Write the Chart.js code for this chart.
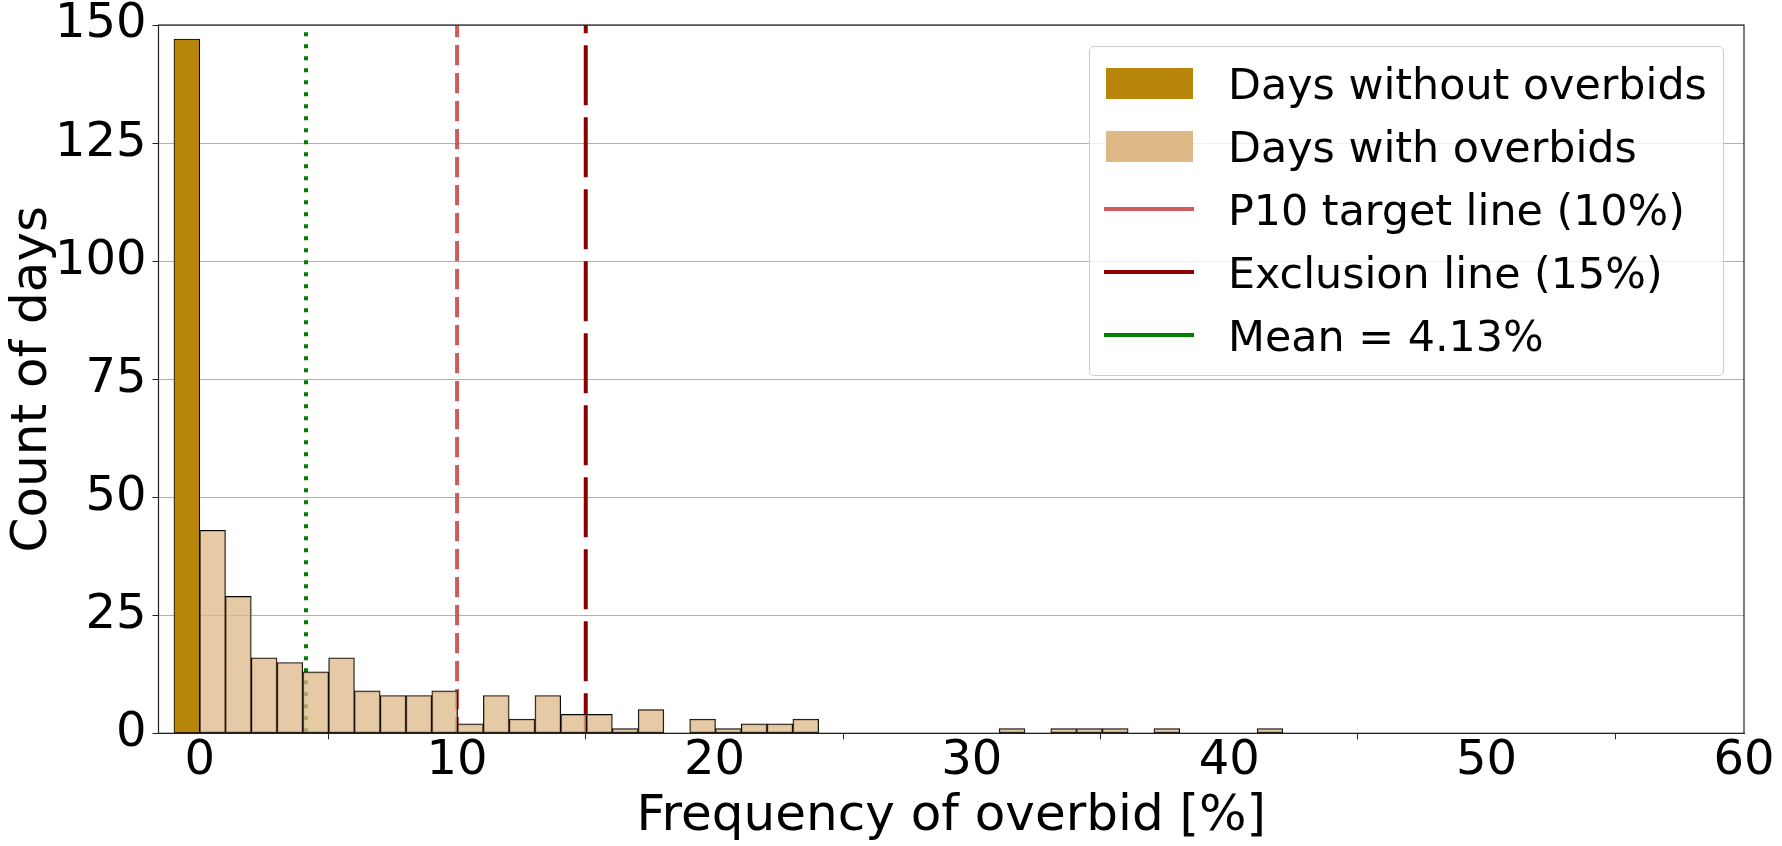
<!DOCTYPE html>
<html>
<head>
<meta charset="utf-8">
<script src="https://cdn.jsdelivr.net/npm/chart.js@4"></script>
<style>
  html, body { margin: 0; padding: 0; background: #fff; }
  #wrap { position: relative; width: 1782px; height: 846px; overflow: hidden; font-family: "DejaVu Sans", sans-serif; }
  #c { position: absolute; left: 0; top: 0; }
  #legend { position: absolute; left: 1089px; top: 46px; width: 635px; height: 330px; box-sizing: border-box;
            background: rgba(255,255,255,0.8); border: 1px solid #cccccc; border-radius: 5px; }
  .row { position: absolute; left: 0; width: 100%; height: 0; }
  .patch { position: absolute; left: 16px; width: 87px; height: 31px; top: -15.5px; }
  .line { position: absolute; left: 14px; width: 90px; height: 4px; top: -2px; }
  .txt { position: absolute; left: 138px; top: -20.75px; font-size: 42.8px; line-height: 43px; white-space: nowrap; color: #000; }
</style>
</head>
<body>
<div id="wrap">
  <canvas id="c" width="1782" height="846"></canvas>
  <div id="legend"></div>
</div>
<script>
// ---- data ----
const binWidth = 1.002;              // width of each overbid-frequency bin [%]
const withOverbidCounts = [43, 29, 16, 15, 13, 16, 9, 8, 8, 9,
                           2, 8, 3, 8, 4, 4, 1, 5, 0, 3,
                           1, 2, 2, 3, 0, 0, 0, 0, 0, 0,
                           0, 1, 0, 1, 1, 1, 0, 1, 0, 0,
                           0, 1];
const noOverbidBin = [-1, 0];        // bin edges for days without overbids
const noOverbidCount = 147;
const p10Target = 10;
const exclusionValue = 15;
const meanValue = 4.13;
const xTickValues = [0, 10, 20, 30, 40, 50, 60];
const yTickValues = [0, 25, 50, 75, 100, 125, 150];
const legendLabels = ["Days without overbids", "Days with overbids", "P10 target line (10%)", "Exclusion line (15%)", "Mean = 4.13%"];
const xTitle = "Frequency of overbid [%]";
const yTitle = "Count of days";

// ---- styles ----
const darkGold = '#b8860b';
const burly = '#deb887';
const burlyAlpha = 'rgba(222,184,135,0.75)';
const p10Color = '#cd5c5c';
const exclColor = '#8b0000';
const meanColor = '#008000';

const withPoints = [];
withOverbidCounts.forEach((c, i) => {
  if (c > 0) withPoints.push({ x: (i + 0.5) * binWidth, y: c });
});
const noPoints = [{ x: (noOverbidBin[0] + noOverbidBin[1]) / 2, y: noOverbidCount }];

const yMax = yTickValues[yTickValues.length - 1];
function vline(x) { return [{ x: x, y: 0 }, { x: x, y: yMax }]; }

const framePlugin = {
  id: 'frame',
  afterDatasetsDraw(chart) {
    const a = chart.chartArea, ctx = chart.ctx;
    ctx.save();
    ctx.strokeStyle = '#222';
    ctx.lineWidth = 1.2;
    ctx.strokeRect(a.left, a.top, a.right - a.left, a.bottom - a.top);
    ctx.restore();
  }
};

const font = "'DejaVu Sans', sans-serif";

new Chart(document.getElementById('c'), {
  type: 'bar',
  data: {
    datasets: [
      { type: 'bar', label: legendLabels[0], data: noPoints, backgroundColor: darkGold,
        borderColor: '#000', borderWidth: 1, borderSkipped: false, order: 0 },
      { type: 'bar', label: legendLabels[1], data: withPoints, backgroundColor: burlyAlpha,
        borderColor: '#000', borderWidth: 1, borderSkipped: false, order: 0 },
      { type: 'line', label: legendLabels[2], data: vline(p10Target), borderColor: p10Color,
        borderWidth: 4, borderDash: [20.3, 7.7], borderDashOffset: 4, pointRadius: 0, borderCapStyle: 'butt', order: 1 },
      { type: 'line', label: legendLabels[3], data: vline(exclusionValue), borderColor: exclColor,
        borderWidth: 4, borderDash: [60, 12], borderDashOffset: 20, pointRadius: 0, borderCapStyle: 'butt', order: 1 },
      { type: 'line', label: legendLabels[4], data: vline(meanValue), borderColor: meanColor,
        borderWidth: 4, borderDash: [4, 8], borderDashOffset: 11, pointRadius: 0, borderCapStyle: 'butt', order: 1 }
    ]
  },
  options: {
    responsive: false,
    devicePixelRatio: 1,
    animation: false,
    grouped: false,
    barPercentage: 1,
    categoryPercentage: 1,
    layout: { padding: { left: 0, right: 38, top: 25, bottom: 0 } },
    plugins: { legend: { display: false }, tooltip: { enabled: false } },
    scales: {
      x: {
        type: 'linear', min: -1.6, max: 60, offset: false,
        afterBuildTicks: s => { s.ticks = xTickValues.map(v => ({ value: v })); },
        afterFit: s => { s.height = 846 - 733.3; s.paddingLeft = 0; s.paddingRight = 0; },
        grid: { drawOnChartArea: false, drawTicks: true, tickLength: 6, color: '#222', tickWidth: 1 },
        border: { color: '#222', width: 1 },
        ticks: { color: '#000', font: { family: font, size: 48 }, padding: -7, maxRotation: 0 },
        title: { display: true, text: xTitle, color: '#000', font: { family: font, size: 50 }, padding: { top: 0, bottom: -1 } }
      },
      y: {
        type: 'linear', min: 0, max: yMax,
        afterBuildTicks: s => { s.ticks = yTickValues.map(v => ({ value: v })); },
        afterFit: s => { s.width = 158.5; s.paddingTop = 0; s.paddingBottom = 0; },
        grid: { color: '#b0b0b0', lineWidth: 1, drawTicks: true, tickLength: 6, tickColor: '#222' },
        border: { color: '#222', width: 1 },
        ticks: { color: '#000', font: { family: font, size: 48 }, padding: 6 },
        title: { display: true, text: yTitle, color: '#000', font: { family: font, size: 50 }, padding: { top: 3, bottom: 0 } }
      }
    }
  },
  plugins: [framePlugin]
});

// ---- legend (HTML text) ----
const legendEl = document.getElementById('legend');
const rowCenters = [36.3, 99.3, 162.3, 225.3, 288.3];
const legendItems = [
  { kind: 'patch', color: darkGold },
  { kind: 'patch', color: burly },
  { kind: 'line', color: p10Color },
  { kind: 'line', color: exclColor },
  { kind: 'line', color: meanColor }
];
legendItems.forEach((it, i) => {
  const row = document.createElement('div');
  row.className = 'row';
  row.style.top = rowCenters[i] + 'px';
  const h = document.createElement('div');
  h.className = it.kind;
  h.style.background = it.color;
  row.appendChild(h);
  const t = document.createElement('div');
  t.className = 'txt';
  t.textContent = legendLabels[i];
  row.appendChild(t);
  legendEl.appendChild(row);
});
</script>
</body>
</html>
